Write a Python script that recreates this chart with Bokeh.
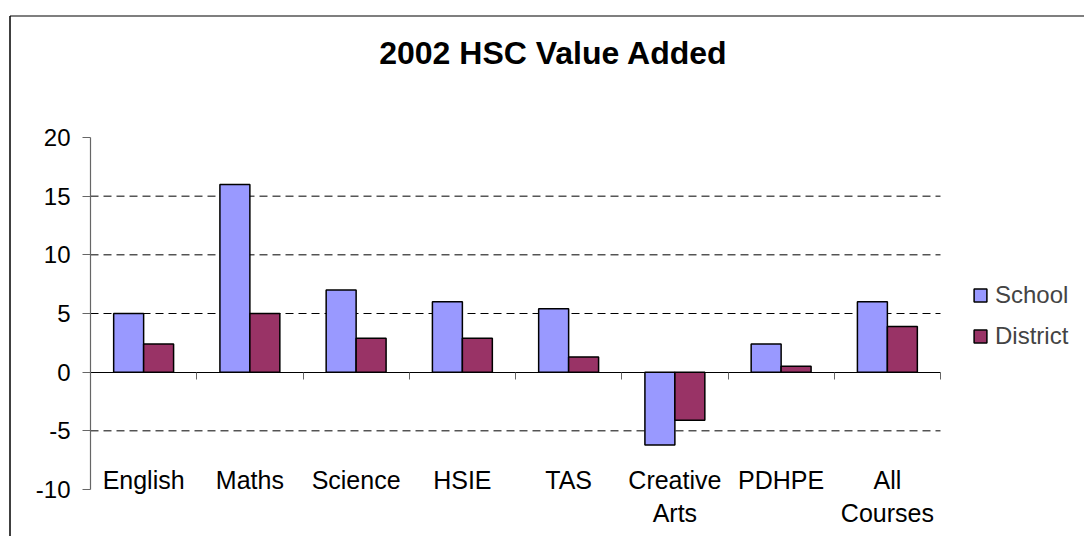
from bokeh.plotting import figure
from bokeh.models import (Range1d, FixedTicker, LinearAxis, Legend, LegendItem,
                          ColumnDataSource, Label)
from bokeh.transform import dodge
from bokeh.embed import file_html
from bokeh.resources import INLINE

categories = ["English", "Maths", "Science", "HSIE", "TAS", "Creative Arts", "PDHPE", "All Courses"]
category_labels = ["English", "Maths", "Science", "HSIE", "TAS", "Creative\nArts", "PDHPE", "All\nCourses"]
school = [5, 16, 7, 6, 5.4, -6.2, 2.4, 6]
district = [2.4, 5, 2.9, 2.9, 1.3, -4.1, 0.5, 3.9]
y_ticks = [-10, -5, 0, 5, 10, 15, 20]
y_tick_labels = ["-10", "-5", "0", "5", "10", "15", "20"]
grid_values = [-5, 5, 10, 15]
title_text = "2002 HSC Value Added"

FONT = "Liberation Sans"
n = len(categories)
centers = [i + 0.5 for i in range(n)]
bw = 0.282
y_min, y_max = -10, 20

# layout in page pixels (the Bokeh page template has no body margin: canvas at 0,0)
ORIGIN = 0
W, H = 1084, 536
AX_LEFT, AX_RIGHT = 90, 940      # page x of x=0 and x=n
AX_TOP, AX_BOTTOM = 137, 489     # page y of y=20 and y=-10
xu = (AX_RIGHT - AX_LEFT) / n
yu = (AX_BOTTOM - AX_TOP) / (y_max - y_min)


def px2x(px):
    return (px - AX_LEFT) / xu


def py2y(py):
    return y_min + (AX_BOTTOM - py) / yu


src = ColumnDataSource(dict(x=centers, school=school, district=district))

p = figure(width=W, height=H,
           x_range=Range1d(px2x(ORIGIN), px2x(ORIGIN + W)),
           y_range=Range1d(py2y(ORIGIN + H), py2y(ORIGIN)),
           output_backend="svg", toolbar_location=None,
           x_axis_location=None, y_axis_location=None)
p.min_border = 0
p.min_border_left = 0
p.min_border_right = 0
p.min_border_top = 0
p.min_border_bottom = 0
p.outline_line_color = None
p.background_fill_color = "white"
p.border_fill_color = "white"
p.xgrid.visible = False
p.ygrid.visible = False
p.title.visible = False

# chart-area border (top and left)
p.segment(x0=[px2x(9.5), px2x(9.5)], y0=[py2y(15.5), py2y(15.5)],
          x1=[px2x(9.5), px2x(ORIGIN + W + 5)], y1=[py2y(ORIGIN + H + 5), py2y(15.5)],
          line_color=["#404040", "black"], line_width=[2, 1.2])

# dashed gridlines
p.segment(x0=[0] * len(grid_values), x1=[n] * len(grid_values), y0=grid_values, y1=grid_values,
          line_color="black", line_dash="8 5", line_width=1)

r1 = p.vbar(x=dodge("x", -bw / 2, range=p.x_range), width=bw, top="school", bottom=0, source=src,
            fill_color="#9999FF", line_color="black", line_width=1.5)
r2 = p.vbar(x=dodge("x", bw / 2, range=p.x_range), width=bw, top="district", bottom=0, source=src,
            fill_color="#993366", line_color="black", line_width=1.5)

yaxis = LinearAxis(fixed_location=0, ticker=FixedTicker(ticks=y_ticks), bounds=(y_min, y_max),
                   major_label_overrides={t: l for t, l in zip(y_ticks, y_tick_labels)},
                   axis_line_color="#666666", axis_line_width=1.2,
                   major_tick_line_color="#666666", major_tick_in=0, major_tick_out=8,
                   minor_tick_line_color=None, major_label_standoff=12,
                   major_label_text_font=FONT, major_label_text_font_size="24px",
                   major_label_text_color="black")
p.add_layout(yaxis, "left")

label_axis = LinearAxis(fixed_location=y_min, ticker=FixedTicker(ticks=centers),
                        major_label_overrides={c: l for c, l in zip(centers, category_labels)},
                        axis_line_color=None, major_tick_line_color=None, minor_tick_line_color=None,
                        major_tick_in=0, major_tick_out=0, major_label_standoff=-24,
                        major_label_text_font=FONT, major_label_text_font_size="25px",
                        major_label_text_color="black", major_label_text_line_height=1.2)
p.add_layout(label_axis, "below")

zero_axis = LinearAxis(fixed_location=0, ticker=FixedTicker(ticks=list(range(n + 1))),
                       bounds=(0, n),
                       axis_line_color="black", axis_line_width=1.2,
                       major_tick_line_color="#666666", major_tick_in=0, major_tick_out=7,
                       minor_tick_line_color=None, major_label_text_color=None,
                       major_label_text_font_size="1px")
p.add_layout(zero_axis, "below")

title = Label(x=px2x(553), y=py2y(52), text=title_text, text_align="center",
              text_baseline="alphabetic", text_font=FONT, text_font_size="32px",
              text_font_style="bold", text_color="black")
p.add_layout(title)

legend = Legend(items=[LegendItem(label="School", renderers=[r1]),
                       LegendItem(label="District", renderers=[r2])],
                location=(972 - ORIGIN, ORIGIN + H - 350), orientation="vertical",
                glyph_width=16, glyph_height=16, label_text_font=FONT, label_text_font_size="24px",
                label_height=28, spacing=13, padding=0, margin=0, border_line_color=None,
                background_fill_alpha=0, label_standoff=7)
p.add_layout(legend)

open("out.html", "w").write(file_html(p, INLINE))
